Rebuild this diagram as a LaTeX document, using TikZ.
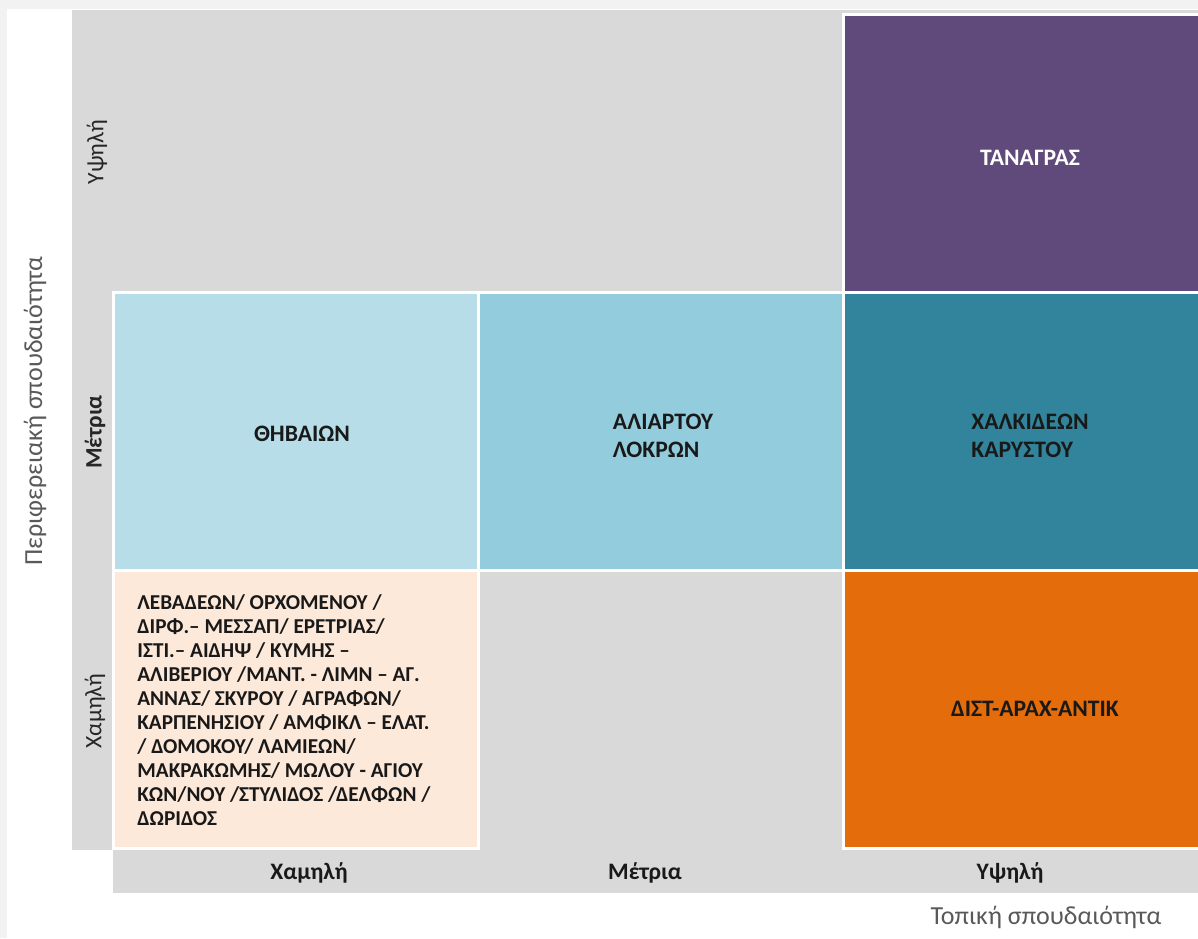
\documentclass[tikz,border=0pt]{standalone}
\usepackage{fontspec}
\setmainfont{Carlito}
\definecolor{bggray}{HTML}{D9D9D9}
\definecolor{purp}{HTML}{604A7B}
\definecolor{lblue}{HTML}{B7DDE8}
\definecolor{mblue}{HTML}{93CDDD}
\definecolor{teal}{HTML}{31849B}
\definecolor{peach}{HTML}{FDE9D9}
\definecolor{orng}{HTML}{E46C0A}
\definecolor{ttlgray}{HTML}{595959}

\begin{document}
\begin{tikzpicture}[x=0.5pt,y=-0.5pt,
	cellbox/.style={draw=white, line width=1.5pt},
	lab/.style={font=\fontsize{11.8}{14}\selectfont\bfseries, text=black!90, inner sep=0pt},
	axlab/.style={font=\fontsize{11.8}{14}\selectfont, text=black!85, rotate=90, inner sep=0pt},
	ttl/.style={font=\fontsize{13}{15}\selectfont, text=ttlgray, inner sep=0pt}]
	\useasboundingbox (0,0) rectangle (1198,938);
	\fill[white] (0,0) rectangle (1198,938);
	\fill[black!5] (0,0) rectangle (1198,9);
	\fill[black!5] (0,0) rectangle (7,938);
	\fill[bggray] (72,10) rectangle (1198,850);
	\fill[bggray] (113,850) rectangle (1198,893);
	\foreach \i/\j/\c in {2/0/purp,0/1/lblue,1/1/mblue,2/1/teal,0/2/peach,2/2/orng}{
		\draw[cellbox, fill=\c] ({113+365*\i},{14+278*\j}) rectangle ++(365,278);
	}
	\node[lab, text=white] (tanagra) at (1030,158) {ΤΑΝΑΓΡΑΣ};
	\node[lab] (thiva) at (302,434) {ΘΗΒΑΙΩΝ};
	\node[lab, align=left] (aliartos) at (663,436) {ΑΛΙΑΡΤΟΥ\\ΛΟΚΡΩΝ};
	\node[lab, align=left] (chalkida) at (1030,436) {ΧΑΛΚΙΔΕΩΝ\\ΚΑΡΥΣΤΟΥ};
	\node[lab] (distomo) at (1035,709) {ΔΙΣΤ-ΑΡΑΧ-ΑΝΤΙΚ};
	\node[lab, font=\fontsize{10.6}{12}\selectfont\bfseries, align=left, anchor=west] (levadeia) at (137,710) {ΛΕΒΑΔΕΩΝ/ ΟΡΧΟΜΕΝΟΥ /\\ΔΙΡΦ.– ΜΕΣΣΑΠ/ ΕΡΕΤΡΙΑΣ/\\ΙΣΤΙ.– ΑΙΔΗΨ / ΚΥΜΗΣ –\\ΑΛΙΒΕΡΙΟΥ /ΜΑΝΤ. - ΛΙΜΝ – ΑΓ.\\ΑΝΝΑΣ/ ΣΚΥΡΟΥ / ΑΓΡΑΦΩΝ/\\ΚΑΡΠΕΝΗΣΙΟΥ / ΑΜΦΙΚΛ – ΕΛΑΤ.\\/ ΔΟΜΟΚΟΥ/ ΛΑΜΙΕΩΝ/\\ΜΑΚΡΑΚΩΜΗΣ/ ΜΩΛΟΥ - ΑΓΙΟΥ\\ΚΩΝ/ΝΟΥ /ΣΤΥΛΙΔΟΣ /ΔΕΛΦΩΝ /\\ΔΩΡΙΔΟΣ};
	\node[axlab] (yhigh) at (97,152) {Υψηλή};
	\node[axlab, font=\fontsize{11.8}{14}\selectfont\bfseries] (ymid) at (95,432) {Μέτρια};
	\node[axlab] (ylow) at (95,711) {Χαμηλή};
	\node[lab] (xlow) at (309,873) {Χαμηλή};
	\node[lab] (xmid) at (645,873) {Μέτρια};
	\node[lab] (xhigh) at (1010,873) {Υψηλή};
	\node[ttl, rotate=90] (ytitle) at (35,411) {Περιφερειακή σπουδαιότητα};
	\node[ttl] (xtitle) at (1046,917) {Τοπική σπουδαιότητα};
\end{tikzpicture}
\end{document}
